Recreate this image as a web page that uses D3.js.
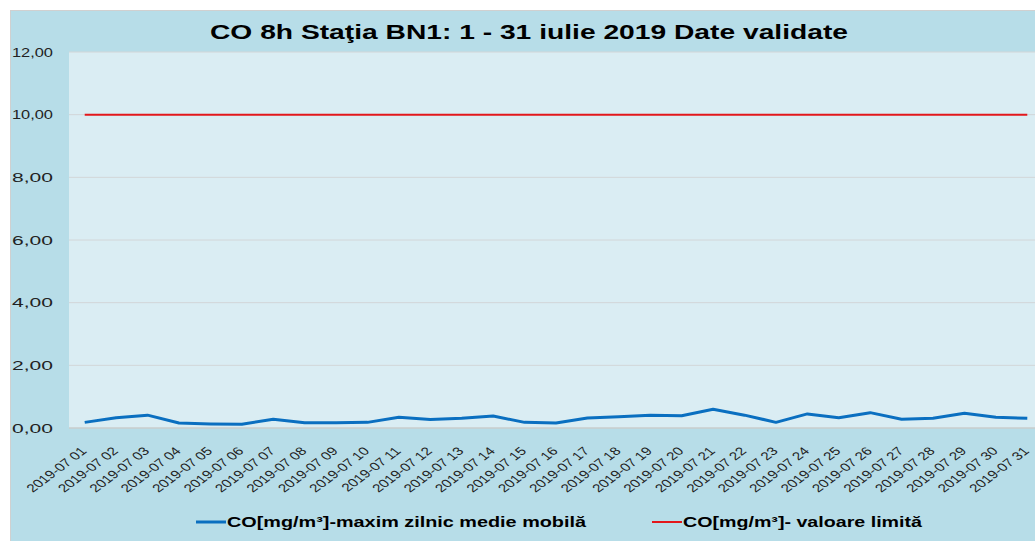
<!DOCTYPE html>
<meta charset="utf-8">
<script src="https://cdn.jsdelivr.net/npm/d3@7"></script>
<style>
  body { margin: 0; background: #fff; }
  svg { font-family: "Liberation Sans", Arial, sans-serif; }
</style>
<div id="chart"></div>
<script>
// data
const days = ["01","02","03","04","05","06","07","08","09","10","11","12","13","14","15","16",
              "17","18","19","20","21","22","23","24","25","26","27","28","29","30","31"];
const dates = days.map(d => "2019-07 " + d);
const coMax = [0.18,0.33,0.41,0.16,0.13,0.12,0.28,0.17,0.17,0.18,0.34,0.27,0.31,0.38,0.18,0.16,
               0.32,0.36,0.41,0.39,0.60,0.41,0.18,0.45,0.33,0.49,0.28,0.31,0.47,0.34,0.31];
const limit = dates.map(() => 10);
const yTicks = [0, 2, 4, 6, 8, 10, 12];

const width = 1035, height = 541;
const plot = {left: 69, right: 1043, top: 52, bottom: 428};
const stretch = 1.33; // the original picture is stretched sideways

const svg = d3.select("#chart").append("svg")
    .attr("width", width).attr("height", height);

// chart background
svg.append("rect")
    .attr("x", 10.5).attr("y", 10.5)
    .attr("width", 1040).attr("height", 540)
    .attr("fill", "#b7dde8").attr("stroke", "#d0d0d0");

svg.append("rect")
    .attr("x", plot.left).attr("y", plot.top)
    .attr("width", plot.right - plot.left).attr("height", plot.bottom - plot.top)
    .attr("fill", "#daedf3");

const x = d3.scaleBand().domain(dates).range([plot.left, plot.right]);
const y = d3.scaleLinear().domain([0, 12]).range([plot.bottom, plot.top]);
const cx = d => x(d) + x.bandwidth() / 2;

// grid
svg.append("g").selectAll("line")
    .data(yTicks.slice(1))
    .join("line")
    .attr("x1", plot.left).attr("x2", plot.right)
    .attr("y1", d => y(d)).attr("y2", d => y(d))
    .attr("stroke", "#d2d6d8").attr("stroke-width", 1);

svg.append("line")
    .attr("x1", plot.left).attr("x2", plot.right)
    .attr("y1", y(0)).attr("y2", y(0))
    .attr("stroke", "#c8cccd").attr("stroke-width", 1.5);

// y axis
const yAxis = svg.append("g")
    .attr("transform", `translate(${plot.left},0)`)
    .call(d3.axisLeft(y).tickValues(yTicks).tickSize(0).tickPadding(16)
        .tickFormat(d => d3.format(".2f")(d).replace(".", ",")));
yAxis.select(".domain").remove();
yAxis.selectAll("text").attr("font-size", 13.5).attr("fill", "#222")
    .attr("font-family", "Liberation Sans, Arial, sans-serif")
    .attr("textLength", 41).attr("lengthAdjust", "spacingAndGlyphs");

// x axis
const xAxis = svg.append("g")
    .attr("transform", `translate(0,${plot.bottom})`)
    .call(d3.axisBottom(x).tickSize(0).tickPadding(0));
xAxis.select(".domain").remove();
xAxis.selectAll("text")
    .attr("font-size", 11.5).attr("fill", "#222")
    .attr("font-family", "Liberation Sans, Arial, sans-serif")
    .attr("text-anchor", "end")
    .attr("y", 0).attr("dy", "0.35em")
    .attr("transform", `translate(-1,21) scale(${stretch},1) rotate(-45)`);

// lines
const line = d3.line().x((d, i) => cx(dates[i])).y(d => y(d));

svg.append("path").datum(limit)
    .attr("d", line).attr("fill", "none")
    .attr("stroke", "#e3171b").attr("stroke-width", 2);

svg.append("path").datum(coMax)
    .attr("d", line).attr("fill", "none")
    .attr("stroke", "#0a6fc0").attr("stroke-width", 3)
    .attr("stroke-linejoin", "round");

// title
svg.append("text")
    .attr("x", 210).attr("y", 39)
    .attr("font-size", 20).attr("font-weight", "bold").attr("fill", "#000")
    .attr("textLength", 638).attr("lengthAdjust", "spacingAndGlyphs")
    .text("CO 8h Staţia BN1: 1 - 31 iulie 2019 Date validate");

// legend
const legend = [
  {label: "CO[mg/m³]-maxim zilnic medie mobilă", color: "#0a6fc0", w: 3, x: 196, len: 359},
  {label: "CO[mg/m³]- valoare limită", color: "#e3171b", w: 2, x: 652, len: 239}
];
const lg = svg.append("g").selectAll("g").data(legend).join("g")
    .attr("transform", d => `translate(${d.x},522)`);
lg.append("line").attr("x1", 0).attr("x2", 30)
    .attr("stroke", d => d.color).attr("stroke-width", d => d.w);
lg.append("text").attr("x", 31).attr("dy", "0.35em")
    .attr("font-size", 15).attr("font-weight", "bold").attr("fill", "#000")
    .attr("textLength", d => d.len).attr("lengthAdjust", "spacingAndGlyphs")
    .text(d => d.label);
</script>
